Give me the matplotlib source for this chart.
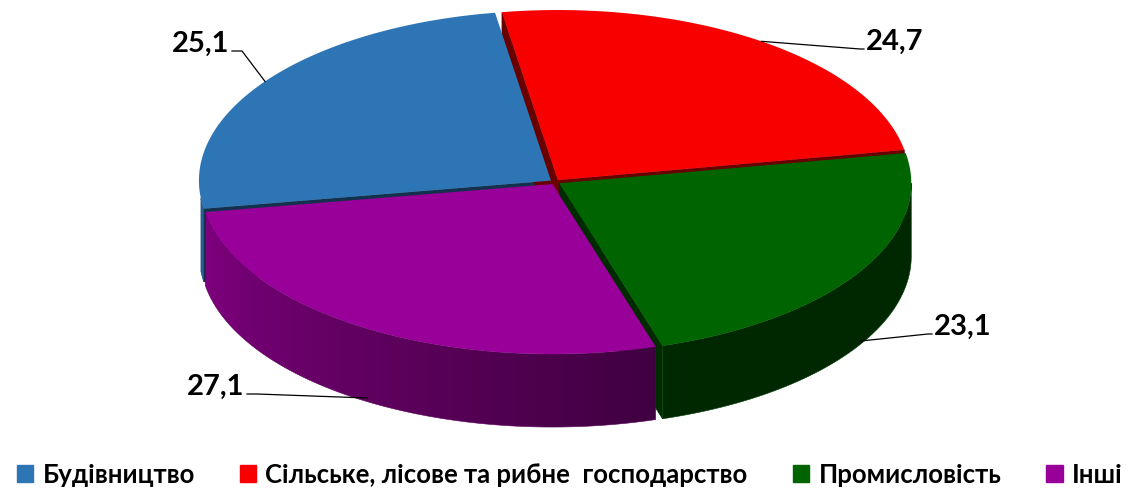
import numpy as np
import matplotlib
matplotlib.use('Agg')
import matplotlib.pyplot as plt
from matplotlib.patches import Patch, Polygon
from matplotlib.colors import to_rgb

# дані
categories = ['Будівництво', 'Сільське, лісове та рибне  господарство', 'Промисловість', 'Інші']
values = [25.1, 24.7, 23.1, 27.1]
colors = ['#2E75B6', '#F80000', '#006400', '#990099']
label_xy = [(229, 44), (866, 42), (934, 327), (244, 387)]   # позиції підписів (px)
label_ha = ['right', 'left', 'left', 'right']

plt.rcParams['font.family'] = ['Lato', 'DejaVu Sans']

fig = plt.figure(figsize=(11.28, 4.88), dpi=100)
ax = fig.add_axes([0, 0, 1, 1])

# геометрія "3D" кола
cx, cy = 555, 182
a, b = 352, 170
depth = 73
expl = 5
start = 189.5
side_from, side_to = 186.0, 360.0   # видима частина бокової стінки


def shade(c, f):
    r, g, bb = to_rgb(c)
    return (r * f, g * f, bb * f)


def side_factor(t):
    return np.clip(0.85 - 0.42 * (t - 185) / 100, 0.4, 0.85)


total = sum(values)
t1 = start
for i, v in enumerate(values):
    span = v / total * 360
    t2 = t1 - span
    m = np.radians((t1 + t2) / 2)
    ox, oy = expl * np.cos(m), -expl * np.sin(m) * b / a
    x0, y0 = cx + ox, cy + oy

    def rim(t):
        t = np.radians(t)
        return x0 + a * np.cos(t), y0 - b * np.sin(t)

    # радіальні грані
    for phi, normal in [(t1, t1 + 90), (t2, t2 - 90)]:
        if np.sin(np.radians(normal)) < 0:
            rx, ry = rim(phi)
            ax.fill([x0, rx, rx, x0], [y0, ry, ry + depth, y0 + depth],
                    color=shade(colors[i], 0.42), lw=0.5, zorder=2)

    # бокова стінка (передня частина) з градієнтом
    for shift in (0, -360):
        lo, hi = max(t2, side_from + shift), min(t1, side_to + shift)
        if hi <= lo:
            continue
        ts = np.linspace(lo, hi, 150)
        xs, ys = rim(ts)
        poly = np.column_stack([np.r_[xs, xs[::-1]], np.r_[ys, ys[::-1] + depth]])
        clip = Polygon(poly, closed=True, fc='none', ec='none')
        ax.add_patch(clip)
        xg = np.linspace(xs.min(), xs.max(), 300)
        tg = 360 - np.degrees(np.arccos(np.clip((xg - x0) / a, -1, 1)))
        f = side_factor(tg)
        img = np.array([shade(colors[i], ff) for ff in f])[None, :, :]
        im = ax.imshow(img, extent=(xs.min(), xs.max(), ys.max() + depth, ys.min()),
                       aspect='auto', interpolation='bilinear', zorder=2)
        im.set_clip_path(clip)
        ax.fill(poly[:, 0], poly[:, 1], fc='none', ec=shade(colors[i], 0.6), lw=0.4, zorder=2)

    # верхня грань
    tt = np.linspace(t1, t2, 200)
    px, py = rim(tt)
    ax.fill(np.r_[x0, px], np.r_[y0, py], color=colors[i], lw=0, zorder=3)

    # підпис і лінія-виноска
    mid = (t1 + t2) / 2
    axp, ayp = rim(mid)
    if np.sin(m) < 0:
        ayp += depth * 0.95
    lx, ly = label_xy[i]
    ax.text(lx, ly, f'{v:.1f}'.replace('.', ','), ha=label_ha[i], va='center',
            fontsize=21, fontweight='bold', zorder=5)
    sx = lx + 3 if label_ha[i] == 'right' else lx - 2
    ex = sx + 10 if label_ha[i] == 'right' else sx - 4
    ax.plot([sx, ex, axp], [ly + 7, ly + 7, ayp], color='black', lw=0.9, zorder=4)

    t1 = t2

ax.set_xlim(0, 1128)
ax.set_ylim(488, 0)
ax.axis('off')

handles = [Patch(color=c) for c in colors]
fig.legend(handles, categories, loc='lower center', ncol=4, frameon=False,
           bbox_to_anchor=(0.505, -0.045), handlelength=0.65, handleheight=0.65,
           handletextpad=0.35, columnspacing=1.75,
           prop={'weight': 'bold', 'size': 18.5})

fig.savefig('out.png', dpi=100)
